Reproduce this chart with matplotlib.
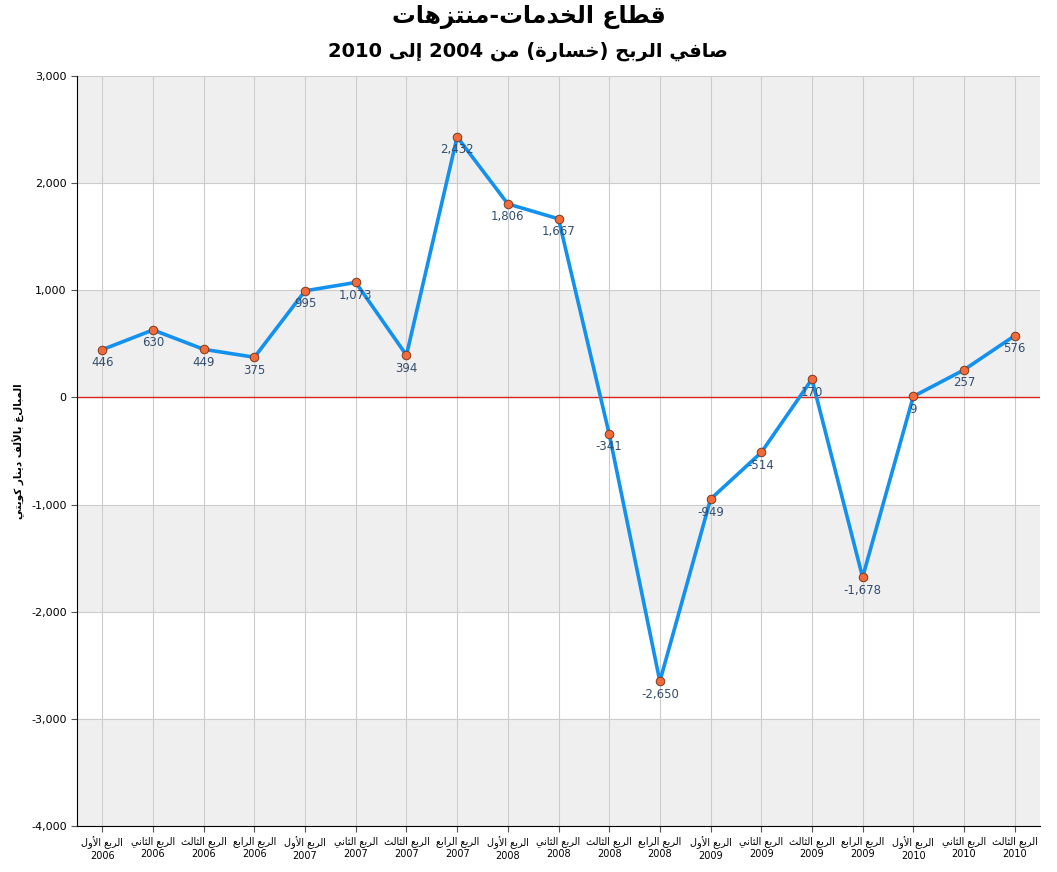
import matplotlib
matplotlib.use("Agg")
import matplotlib.pyplot as plt
import re

quarters = ["الربع الأول", "الربع الثاني", "الربع الثالث", "الربع الرابع",
            "الربع الأول", "الربع الثاني", "الربع الثالث", "الربع الرابع",
            "الربع الأول", "الربع الثاني", "الربع الثالث", "الربع الرابع",
            "الربع الأول", "الربع الثاني", "الربع الثالث", "الربع الرابع",
            "الربع الأول", "الربع الثاني", "الربع الثالث"]
years = ["2006"] * 4 + ["2007"] * 4 + ["2008"] * 4 + ["2009"] * 4 + ["2010"] * 3
values = [446, 630, 449, 375, 995, 1073, 394, 2432, 1806, 1667, -341, -2650,
          -949, -514, 170, -1678, 9, 257, 576]
title = "قطاع الخدمات-منتزهات"
subtitle = "صافي الربح (خسارة) من 2004 إلى 2010"
ylabel = "المبالغ بالألف دينار كويتي"

# minimal Arabic shaping (presentation forms) + visual ordering
FORMS = {
    'ا': (0xFE8D, 0xFE8E, None, None), 'أ': (0xFE83, 0xFE84, None, None),
    'إ': (0xFE87, 0xFE88, None, None), 'ب': (0xFE8F, 0xFE90, 0xFE91, 0xFE92),
    'ة': (0xFE93, 0xFE94, None, None), 'ت': (0xFE95, 0xFE96, 0xFE97, 0xFE98),
    'ث': (0xFE99, 0xFE9A, 0xFE9B, 0xFE9C), 'ح': (0xFEA1, 0xFEA2, 0xFEA3, 0xFEA4),
    'خ': (0xFEA5, 0xFEA6, 0xFEA7, 0xFEA8), 'د': (0xFEA9, 0xFEAA, None, None),
    'ر': (0xFEAD, 0xFEAE, None, None), 'ز': (0xFEAF, 0xFEB0, None, None),
    'س': (0xFEB1, 0xFEB2, 0xFEB3, 0xFEB4), 'ص': (0xFEB9, 0xFEBA, 0xFEBB, 0xFEBC),
    'ط': (0xFEC1, 0xFEC2, 0xFEC3, 0xFEC4), 'ع': (0xFEC9, 0xFECA, 0xFECB, 0xFECC),
    'ف': (0xFED1, 0xFED2, 0xFED3, 0xFED4), 'ق': (0xFED5, 0xFED6, 0xFED7, 0xFED8),
    'ك': (0xFED9, 0xFEDA, 0xFEDB, 0xFEDC), 'ل': (0xFEDD, 0xFEDE, 0xFEDF, 0xFEE0),
    'م': (0xFEE1, 0xFEE2, 0xFEE3, 0xFEE4), 'ن': (0xFEE5, 0xFEE6, 0xFEE7, 0xFEE8),
    'ه': (0xFEE9, 0xFEEA, 0xFEEB, 0xFEEC), 'و': (0xFEED, 0xFEEE, None, None),
    'ى': (0xFEEF, 0xFEF0, None, None), 'ي': (0xFEF1, 0xFEF2, 0xFEF3, 0xFEF4),
    'ﻻ': (0xFEFB, 0xFEFC, None, None), 'ﻷ': (0xFEF7, 0xFEF8, None, None),
    'ﻹ': (0xFEF9, 0xFEFA, None, None),
}

def shape(s):
    s = s.replace('لا', 'ﻻ').replace('لأ', 'ﻷ').replace('لإ', 'ﻹ')
    out = []
    for i, c in enumerate(s):
        if c not in FORMS:
            out.append(c)
            continue
        prev = s[i - 1] if i > 0 else ''
        nxt = s[i + 1] if i + 1 < len(s) else ''
        jp = prev in FORMS and FORMS[prev][2] is not None
        jn = nxt in FORMS and FORMS[c][2] is not None
        iso, fin, ini, med = FORMS[c]
        if jp and jn:
            out.append(chr(med))
        elif jp:
            out.append(chr(fin))
        elif jn:
            out.append(chr(ini))
        else:
            out.append(chr(iso))
    r = ''.join(out)[::-1]
    r = re.sub(r'\d+', lambda m: m.group(0)[::-1], r)
    r = r.translate(str.maketrans('()', ')('))
    return r

plt.rcParams['font.family'] = ['DejaVu Sans']
fig = plt.figure(figsize=(10.57, 8.72), dpi=100)
ax = fig.add_axes([77 / 1057, 46 / 872, 963 / 1057, 750 / 872])

for lo in [2000, 0, -2000, -4000]:
    ax.axhspan(lo, lo + 1000, color='#efefef', zorder=0, lw=0)
x = list(range(len(values)))
for xi in x:
    ax.axvline(xi, color='#cccccc', lw=0.8, zorder=1)
for yv in range(-4000, 3001, 1000):
    ax.axhline(yv, color='#cccccc', lw=0.8, zorder=1)
ax.axhline(0, color='#d9261c', lw=1, zorder=2)

ax.plot(x, values, color='#1391ef', lw=2.6, zorder=3)
ax.scatter(x, values, s=38, color='#f26b3a', edgecolor='#7a3a20', lw=0.7, zorder=4)
for xi, v in zip(x, values):
    ax.text(xi, v - 60, f"{v:,}", ha='center', va='top', fontsize=8.5, color='#334e6e', zorder=5)

ax.set_xlim(-0.5, len(values) - 0.5)
ax.set_ylim(-4000, 3000)
ax.set_yticks(range(-4000, 3001, 1000))
ax.set_yticklabels([f"{t:,}" for t in range(-4000, 3001, 1000)], fontsize=8)
ax.set_xticks(x)
ax.set_xticklabels([f"{shape(q)}\n{y}" for q, y in zip(quarters, years)], fontsize=7)
ax.tick_params(axis='both', length=4, color='#555555')
for sp in ['top', 'right']:
    ax.spines[sp].set_visible(False)
ax.set_ylabel(shape(ylabel), fontsize=7.5, fontweight='bold')

fig.text(0.5, 0.981, shape(title), ha='center', va='center', fontsize=17, fontweight='bold')
fig.text(0.5, 0.94, shape(subtitle), ha='center', va='center', fontsize=14, fontweight='bold')

fig.savefig('out.png', dpi=100)
